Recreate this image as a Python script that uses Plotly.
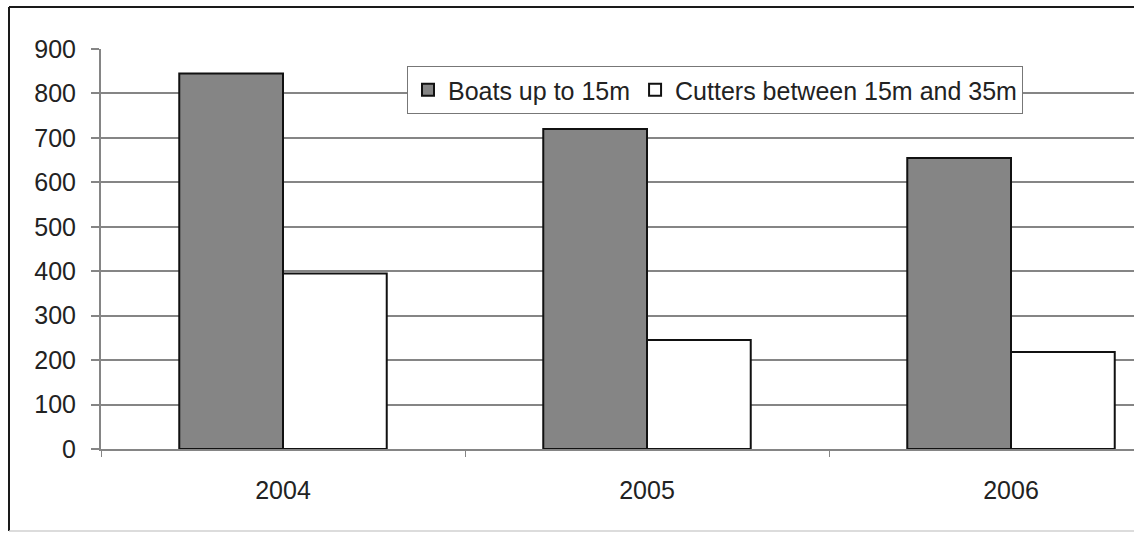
import plotly.graph_objects as go

# Fleet size by vessel class
years = ["2004", "2005", "2006"]
boats_up_to_15m = [845, 720, 655]
cutters_15_to_35m = [395, 245, 218]
y_ticks = [0, 100, 200, 300, 400, 500, 600, 700, 800, 900]

FONT = "Liberation Sans, Arial, sans-serif"
GRID = "#858585"

fig = go.Figure()
fig.add_trace(go.Bar(
    name="Boats up to 15m", x=years, y=boats_up_to_15m,
    marker=dict(color="#858585", line=dict(color="#111111", width=2)),
))
fig.add_trace(go.Bar(
    name="Cutters between 15m and 35m", x=years, y=cutters_15_to_35m,
    marker=dict(color="#ffffff", line=dict(color="#111111", width=2)),
))

W, H = 1134, 533
L, T, B = 101, 49, 84
plot_w = W - L
plot_h = H - T - B
cat_px = 364.0
bottom_px = H - B


def py(px):
    """Pixel row -> paper y."""
    return (bottom_px - px) / plot_h


def px_x(px):
    """Pixel column -> paper x."""
    return (px - L) / plot_w


fig.update_layout(
    width=W, height=H,
    margin=dict(l=L, r=0, t=T, b=B, pad=0),
    paper_bgcolor="white", plot_bgcolor="white",
    barmode="group", bargap=0.43, bargroupgap=0,
    font=dict(family=FONT, size=25, color="#222222"),
    showlegend=True,
    legend=dict(
        orientation="h", x=px_x(407), y=py(66),
        xanchor="left", yanchor="top",
        bgcolor="white", bordercolor="#777777", borderwidth=1,
        font=dict(family=FONT, size=25, color="#222222"),
        itemwidth=30, tracegroupgap=0,
    ),
    xaxis=dict(
        type="category", range=[-0.5, -0.5 + plot_w / cat_px],
        showline=True, linecolor=GRID, linewidth=2,
        ticks="outside", ticklen=6, tickcolor=GRID, tickwidth=1,
        tickson="boundaries", showgrid=False,
        tickfont=dict(family=FONT, size=25, color="#222222"),
        ticklabelstandoff=18,
    ),
    yaxis=dict(
        range=[0, 900], tickvals=y_ticks,
        showgrid=True, gridcolor=GRID, gridwidth=2,
        showline=True, linecolor=GRID, linewidth=2,
        ticks="outside", ticklen=8, tickcolor=GRID, tickwidth=2,
        tickfont=dict(family=FONT, size=25, color="#222222"),
        ticklabelstandoff=10, zeroline=False,
    ),
    shapes=[
        # chart frame: dark left and top edges
        dict(type="line", xref="paper", yref="paper",
             x0=px_x(9), x1=px_x(9), y0=py(531), y1=py(7),
             line=dict(color="#1a1a1a", width=2), layer="above"),
        dict(type="line", xref="paper", yref="paper",
             x0=px_x(9), x1=1.0, y0=py(7), y1=py(7),
             line=dict(color="#1a1a1a", width=2), layer="above"),
        # faint bottom edge
        dict(type="line", xref="paper", yref="paper",
             x0=px_x(9), x1=1.0, y0=py(531), y1=py(531),
             line=dict(color="#d0d0d0", width=1.5), layer="above"),
    ],
)

fig.write_html("out.html")
